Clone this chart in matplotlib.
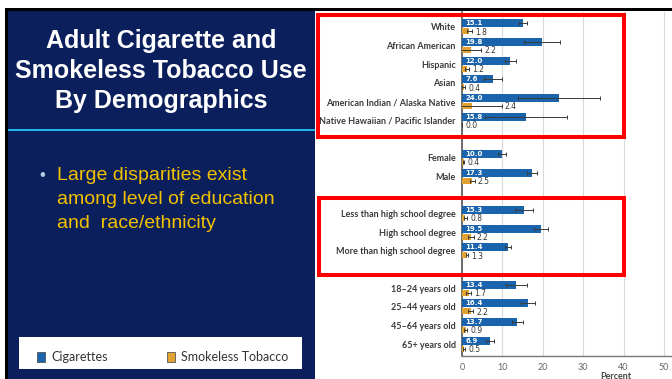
import matplotlib
matplotlib.use('Agg')
import matplotlib.pyplot as plt
from matplotlib.patches import Rectangle

# Datos (porcentaje de uso en adultos)
groups = [
    ['White', 'African American', 'Hispanic', 'Asian',
     'American Indian / Alaska Native', 'Native Hawaiian / Pacific Islander'],
    ['Female', 'Male'],
    ['Less than high school degree', 'High school degree', 'More than high school degree'],
    ['18\u201324 years old', '25\u201344 years old', '45\u201364 years old', '65+ years old'],
]
cigarettes = [15.1, 19.8, 12.0, 7.6, 24.0, 15.8, 10.0, 17.3, 15.3, 19.5, 11.4, 13.4, 16.4, 13.7, 6.9]
cig_err = [0.9, 4.5, 1.4, 2.2, 10.2, 10.2, 1.0, 1.3, 2.3, 1.8, 0.8, 2.6, 1.7, 1.3, 0.9]
smokeless = [1.8, 2.2, 1.2, 0.4, 2.4, 0.0, 0.4, 2.5, 0.8, 2.2, 1.3, 1.7, 2.2, 0.9, 0.5]
smk_err = [0.6, 2.5, 0.5, 0.3, 7.4, 0.0, 0.2, 0.6, 0.4, 0.7, 0.3, 0.6, 0.6, 0.3, 0.3]
x_ticks = [0, 10, 20, 30, 40, 50, 60, 70]

title_lines = ['Adult Cigarette and', 'Smokeless Tobacco Use', 'By Demographics']
bullet_lines = ['Large disparities exist', 'among level of education', 'and  race/ethnicity']

W, H = 672, 379
NAVY = '#0b1f5c'
BLUE = '#1a64ad'
ORANGE = '#e2a232'

# posiciones de filas: un hueco entre grupos
labels, rows = [], []
pos = 0
for g in groups:
    for lab in g:
        labels.append(lab)
        rows.append(pos)
        pos += 1
    pos += 1


def fx(x):
    return x / W


def fy(y):
    return 1 - y / H


def rect_px(x0, y0, x1, y1, **kw):
    return Rectangle((fx(x0), fy(y1)), fx(x1) - fx(x0), fy(y0) - fy(y1),
                     transform=fig.transFigure, **kw)


fig = plt.figure(figsize=(W / 100, H / 100), dpi=100, facecolor='white')

# Panel izquierdo
fig.add_artist(rect_px(5, 8, W, 11, color='black', lw=0, zorder=0))
fig.add_artist(rect_px(5, 8, 8, H, color='black', lw=0, zorder=0))
fig.add_artist(rect_px(8, 11, 315, H, color=NAVY, lw=0, zorder=0))
fig.add_artist(rect_px(8, 128.5, 315, 130.5, color='#1fb4ea', lw=0, zorder=1))

for i, line in enumerate(title_lines):
    fig.text(fx(161), fy(48 + 30 * i), line, ha='center', va='baseline',
             color='white', fontsize=18, fontweight='bold', family='Liberation Sans')

fig.text(fx(39), fy(180), '\u2022', ha='left', va='baseline', color='#b8cde0',
         fontsize=12, family='Liberation Sans')
for i, line in enumerate(bullet_lines):
    fig.text(fx(57), fy(180 + 24 * i), line, ha='left', va='baseline',
             color='#f2c200', fontsize=14, family='Liberation Sans')

# Leyenda
fig.add_artist(rect_px(19, 337, 302, 369, color='white', lw=0, zorder=1))
fig.add_artist(rect_px(37, 352, 45, 362, facecolor=BLUE, edgecolor='#555555', lw=0.6, zorder=2))
fig.text(fx(51), fy(357), 'Cigarettes', ha='left', va='center', color='#333333',
         fontsize=9, family='Lato')
fig.add_artist(rect_px(167, 352, 175, 362, facecolor=ORANGE, edgecolor='#555555', lw=0.6, zorder=2))
fig.text(fx(181), fy(357), 'Smokeless Tobacco', ha='left', va='center', color='#333333',
         fontsize=9, family='Lato')

# Grafico de barras
px_per_unit = 4.04
ax = fig.add_axes([fx(462), fy(356), fx(76 * px_per_unit), (356 - 12) / H])
ax.set_facecolor('white')
ax.set_xlim(0, 76)
ax.set_ylim(17.64, -0.8)

cig_y = [r - 0.19 for r in rows]
smk_y = [r + 0.24 for r in rows]
ax.barh(cig_y, cigarettes, height=0.43, color=BLUE, zorder=3)
ax.barh(smk_y, smokeless, height=0.32, color=ORANGE, zorder=3)
ax.errorbar(cigarettes, cig_y, xerr=cig_err, fmt='none', ecolor='#3a3a3a',
            elinewidth=0.7, capsize=1.5, capthick=0.7, zorder=4)
ax.errorbar(smokeless, smk_y, xerr=smk_err, fmt='none', ecolor='#3a3a3a',
            elinewidth=0.7, capsize=1.5, capthick=0.7, zorder=4)

for y, v in zip(cig_y, cigarettes):
    ax.text(0.8, y, f'{v:.1f}', ha='left', va='center', color='white',
            fontsize=5, fontweight='bold', zorder=5)
for y, v, e in zip(smk_y, smokeless, smk_err):
    ax.text(v + e + 0.8, y + 0.05, f'{v:.1f}', ha='left', va='center', color='#333333',
            fontsize=5.5, zorder=5)

ax.set_yticks(rows)
ax.set_yticklabels(labels, fontsize=6.5, fontweight='bold', color='#3a3a3a', family='Lato')
ax.set_xticks(x_ticks)
ax.set_xticklabels([str(t) for t in x_ticks], fontsize=6.5, color='#666666', family='Lato')
ax.tick_params(axis='y', length=0, pad=4.5)
ax.tick_params(axis='x', length=0, pad=5)
ax.set_xlabel('Percent', fontsize=6.5, fontweight='bold', color='#444444', family='Lato', labelpad=0)

ax.grid(axis='x', color='#d9d9d9', linewidth=0.8, zorder=0)
ax.set_axisbelow(True)
for s in ['top', 'right']:
    ax.spines[s].set_visible(False)
ax.spines['left'].set_color('#555555')
ax.spines['left'].set_linewidth(1.2)
ax.spines['bottom'].set_color('#777777')
ax.spines['bottom'].set_linewidth(1.0)

# Recuadros rojos
fig.add_artist(rect_px(318, 15, 624, 137, fill=False, edgecolor='#ff0000', lw=2.9, zorder=10))
fig.add_artist(rect_px(319, 198, 624, 275, fill=False, edgecolor='#ff0000', lw=2.9, zorder=10))

fig.savefig('out.png', dpi=100, facecolor='white')
